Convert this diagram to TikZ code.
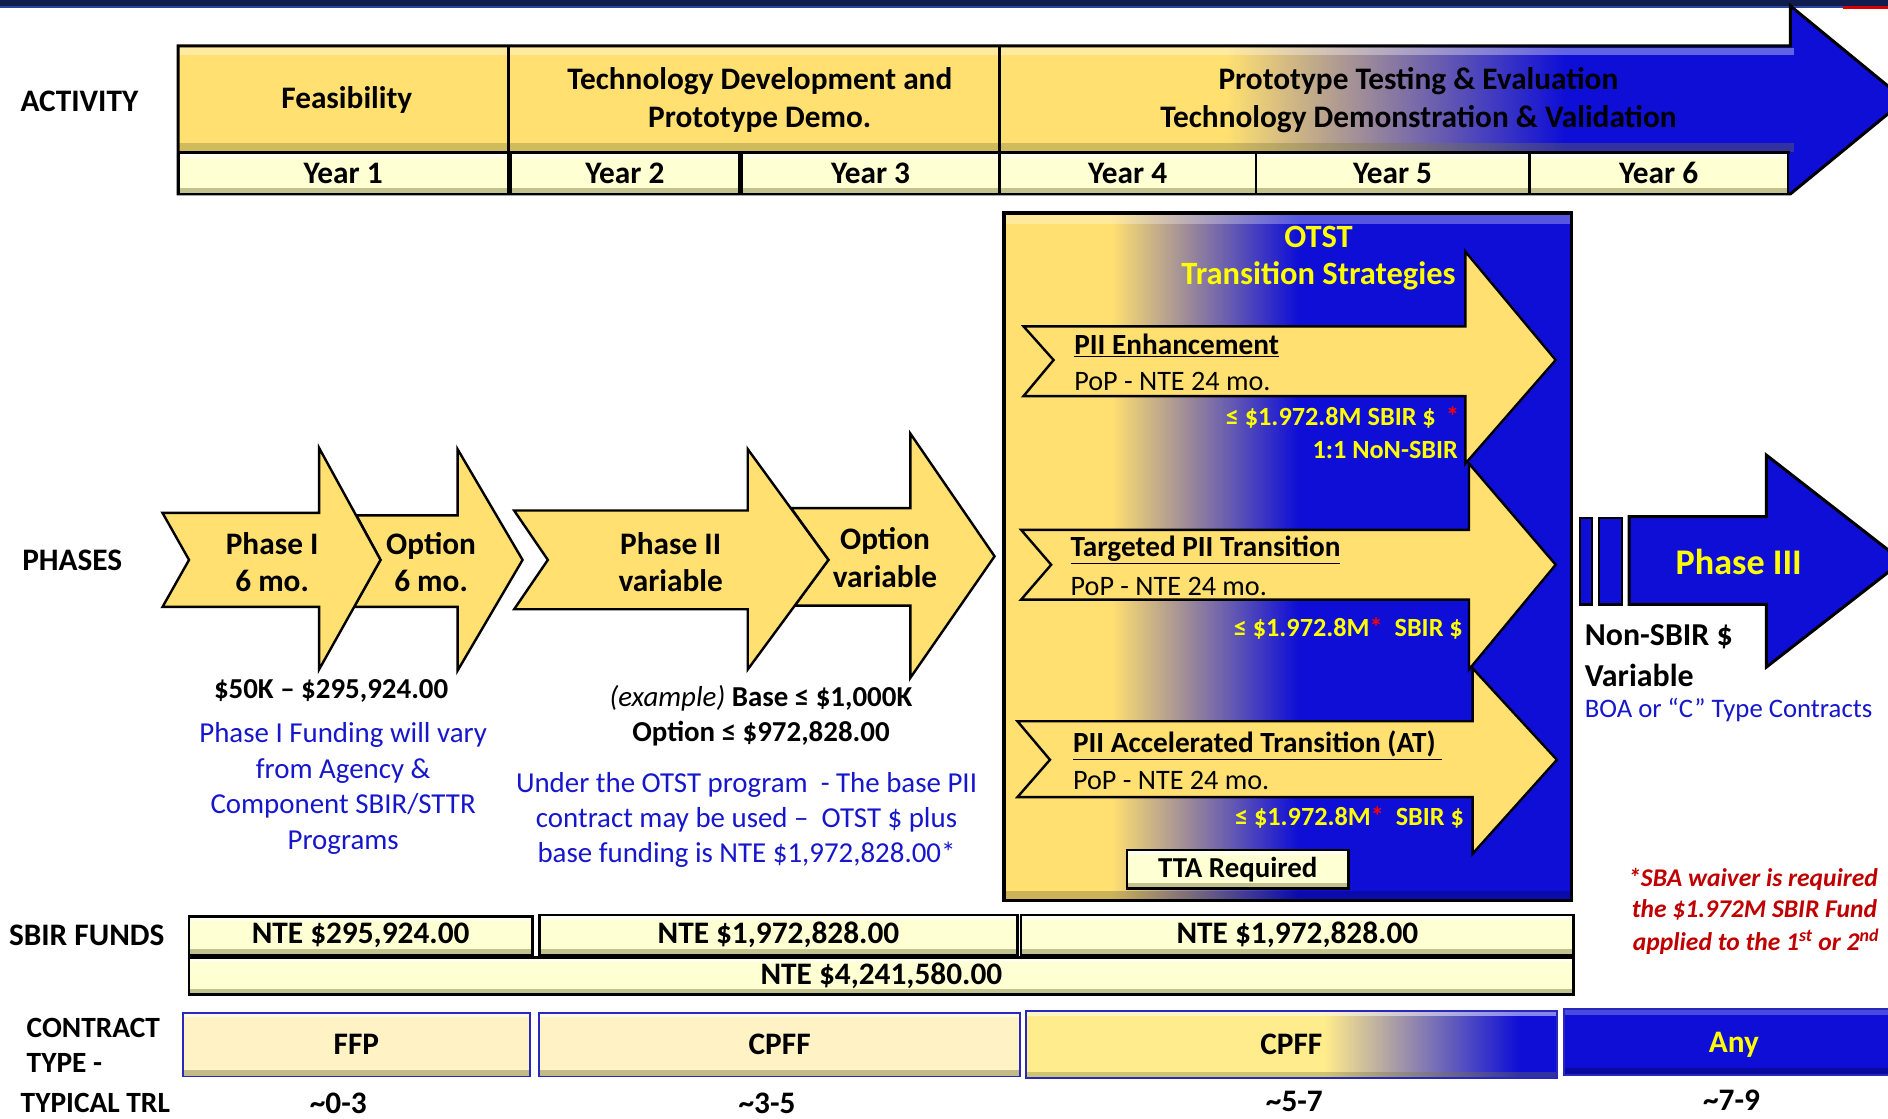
\documentclass[tikz,border=0pt]{standalone}
\usepackage{fontspec}
\setmainfont{Carlito}
\definecolor{gold}{RGB}{255,224,112}
\definecolor{deepblue}{RGB}{14,14,214}
\definecolor{cream}{RGB}{255,255,212}
\definecolor{pale}{RGB}{255,243,198}
\definecolor{cpy}{RGB}{255,236,140}
\definecolor{navy}{RGB}{17,28,78}
\definecolor{bandblue}{RGB}{40,70,160}
\definecolor{txtblue}{RGB}{22,22,205}
\definecolor{notered}{RGB}{192,0,0}
\definecolor{ytext}{RGB}{255,255,0}
\definecolor{cblue}{RGB}{40,40,190}
\definecolor{shadow}{RGB}{120,120,60}
\newcommand\myle{≤}
\begin{document}
\begin{tikzpicture}[x=1pt,y=-1pt,
  lab/.style={font=\fontsize{26}{31}\selectfont\bfseries, inner sep=0pt, align=center},
  lab2/.style={font=\fontsize{24.4}{29}\selectfont\bfseries, inner sep=0pt, anchor=west},
  blu/.style={font=\fontsize{24}{29.5}\selectfont, text=txtblue, inner sep=0pt, align=center},
  pop/.style={font=\fontsize{23.4}{28}\selectfont, inner sep=0pt, anchor=west},
  ttl/.style={font=\fontsize{24.3}{28}\selectfont\bfseries, inner sep=0pt, anchor=west},
  amt/.style={font=\fontsize{21.8}{25}\selectfont\bfseries, text=ytext, inner sep=0pt, anchor=east},
  note/.style={anchor=west, inner sep=0pt, text=notered, font=\fontsize{21.2}{26}\selectfont\bfseries\itshape},
  bevel/.style={path picture={
    \fill[white,opacity=.6] (path picture bounding box.north west) rectangle ([yshift=-4pt]path picture bounding box.north east);
    \fill[shadow,opacity=.45] ([yshift=5pt]path picture bounding box.south west) rectangle (path picture bounding box.south east);}},
  cbox/.style={draw=black, line width=2.2pt, fill=cream, bevel, inner sep=0pt, font=\fontsize{26}{31}\selectfont\bfseries},
  ctbox/.style={draw=cblue, line width=1.6pt, fill=pale, bevel, inner sep=0pt, font=\fontsize{26}{31}\selectfont\bfseries},
  parrow/.style={draw=black, line width=2pt, fill=gold, line join=miter},
]
\useasboundingbox (0,0) rectangle (1568,929);
\clip (0,0) rectangle (1568,929);
\fill[white] (0,0) rectangle (1568,929);
% top band
\fill[navy] (0,0) rectangle (1568,5);
\fill[bandblue] (0,5) rectangle (1568,7);
\fill[red!85!black] (1531,5) rectangle (1568,7.5);

% ===== ACTIVITY arrow =====
\path[draw=black, line width=2.5pt, path picture={
   \fill[gold] (140,0) rectangle (1018,170);
   \shade[left color=gold, right color=deepblue] (1018,0) rectangle (1300,170);
   \fill[deepblue] (1300,0) rectangle (1600,170);
   \fill[white,opacity=.35] (148,40) rectangle (1490,46);
   \fill[shadow,opacity=.35] (148,119) rectangle (1490,126);
 }] (148,38) -- (1487,38) -- (1487,5) -- (1582,83) -- (1487,161) -- (148,161) -- cycle;
\draw[line width=2.5pt] (422,38) -- (422,127) (830,38) -- (830,127) (148,127) -- (1487,127);

\node[lab] (act) at (66,84) {ACTIVITY};
\node[lab] (feas) at (288,83) {Feasibility};
\node[lab, font=\fontsize{26}{32}\selectfont\bfseries] (techdev) at (631,83) {Technology Development and\\Prototype Demo.};
\node[lab, font=\fontsize{26}{32}\selectfont\bfseries] (proto) at (1178,83) {Prototype Testing \& Evaluation\\Technology Demonstration \& Validation};

\node[cbox, minimum width=274, minimum height=34] (y1) at (285,144) {Year 1};
\node[cbox, minimum width=190, minimum height=34] (y2) at (519,144) {Year 2};
\node[cbox, minimum width=214, minimum height=34] (y3) at (723,144) {Year 3};
\node[cbox, minimum width=213, minimum height=34] (y4) at (936.5,144) {Year 4};
\node[cbox, minimum width=227, minimum height=34] (y5) at (1156.5,144) {Year 5};
\node[cbox, minimum width=215, minimum height=34] (y6) at (1377.5,144) {Year 6};

% ===== PHASES =====
\node[lab] (phases) at (60,465) {PHASES};
\path[parrow] (296,428) -- (380,428) -- (380,373) -- (434,465) -- (380,557) -- (380,504) -- (294,504) -- (316,465) -- cycle;
\path[parrow] (135,426) -- (265,426) -- (265,372) -- (316,465) -- (265,556) -- (265,504) -- (135,504) -- (157,465) -- cycle;
\path[parrow] (657,422) -- (756,422) -- (756,360) -- (826,462) -- (756,563) -- (756,503) -- (660,503) -- (688,465) -- cycle;
\path[parrow] (427,424) -- (621,424) -- (621,373) -- (688,465) -- (621,556) -- (621,506) -- (427,506) -- (455,465) -- cycle;

\node[lab] (p1) at (226,467) {Phase I\\6 mo.};
\node[lab] (o1) at (358,467) {Option\\6 mo.};
\node[lab] (p2) at (557,467) {Phase II\\variable};
\node[lab] (o2) at (735,463) {Option\\variable};

\node[lab, font=\fontsize{24}{29}\selectfont\bfseries] (p1amt) at (275,574) {\$50K – \$295,924.00};
\node[blu] (p1note) at (285,655) {Phase I Funding will vary\\from Agency \&\\Component SBIR/STTR\\Programs};
\node[lab, font=\fontsize{24}{29}\selectfont\bfseries] (p2base) at (632,580) {{\mdseries\itshape (example)} Base \myle\ \$1,000K};
\node[lab, font=\fontsize{24}{29}\selectfont\bfseries] (p2opt) at (632,609) {Option \myle\ \$972,828.00};
\node[blu, font=\fontsize{24}{29}\selectfont] (p2note) at (620,681) {Under the OTST program \ - The base PII\\contract may be used – \ OTST \$ plus\\base funding is NTE \$1,972,828.00*};

% ===== OTST box =====
\path[draw=black, line width=3pt, path picture={
   \fill[gold] (830,170) rectangle (923,760);
   \shade[left color=gold, right color=deepblue] (923,170) rectangle (1078,760);
   \fill[deepblue] (1078,170) rectangle (1310,760);
   \fill[white,opacity=.3] (834,178) rectangle (1305,186);
   \fill[black,opacity=.2] (834,740) rectangle (1305,748);
 }] (834,177) rectangle (1305,748);
\node[lab, text=ytext, font=\fontsize{27}{32}\selectfont\bfseries] (otst) at (1095,197) {OTST};
\node[lab, text=ytext, font=\fontsize{27}{32}\selectfont\bfseries] (trans) at (1095,229) {Transition Strategies};

\path[parrow] (850,271) -- (1217,271) -- (1217,209) -- (1292,299) -- (1217,385) -- (1217,329) -- (850,329) -- (875,299) -- cycle;
\path[parrow] (848,440) -- (1220,440) -- (1220,385) -- (1292,469) -- (1220,556) -- (1220,498) -- (848,498) -- (873,469) -- cycle;
\path[parrow] (845,599) -- (1223,599) -- (1223,555) -- (1293,631) -- (1223,709) -- (1223,662) -- (845,662) -- (872,631) -- cycle;

\node[ttl] (enh) at (892,287) {\underline{PII Enhancement}};
\node[pop] (enhpop) at (892,317) {PoP - NTE 24 mo.};
\node[amt] (enhamt) at (1212,347) {\myle\ \$1.972.8M SBIR \$ \,{\color{red}*}};
\node[amt] (enhnon) at (1211,374) {1:1 NoN-SBIR};

\node[ttl] (tgt) at (889,457) {\underline{Targeted PII Transition}};
\node[pop] (tgtpop) at (889,487) {PoP - NTE 24 mo.};
\node[amt] (tgtamt) at (1215,522) {\myle\ \$1.972.8M{\color{red}*}\ \ SBIR \$};

\node[ttl] (acc) at (891,619) {\underline{PII Accelerated Transition (AT)\ }};
\node[pop] (accpop) at (891,648) {PoP - NTE 24 mo.};
\node[amt] (accamt) at (1216,679) {\myle\ \$1.972.8M{\color{red}*}\ \ SBIR \$};

\node[cbox, minimum width=184, minimum height=32, font=\fontsize{24}{29}\selectfont\bfseries] (tta) at (1028,722) {TTA Required};

% ===== Phase III =====
\path[draw=black, line width=2pt, fill=deepblue] (1312,430) rectangle (1322,502);
\path[draw=black, line width=2pt, fill=deepblue] (1328,430) rectangle (1347,502);
\path[draw=black, line width=2.5pt, fill=deepblue] (1353,429) -- (1467,429) -- (1467,378) -- (1580,466) -- (1467,554) -- (1467,502) -- (1353,502) -- cycle;
\node[lab, text=ytext, font=\fontsize{30}{34}\selectfont\bfseries] (p3) at (1444,467) {Phase III};
\node[lab, anchor=west, font=\fontsize{26.5}{31}\selectfont\bfseries] (nonsbir) at (1316,529) {Non-SBIR \$};
\node[lab, anchor=west, font=\fontsize{26.5}{31}\selectfont\bfseries] (var) at (1316,561) {Variable};
\node[blu, anchor=west, font=\fontsize{22.2}{27}\selectfont] (boa) at (1316,590) {BOA or “C” Type Contracts};

% red note
\node[note] (n1) at (1352,730) {*SBA waiver is required};
\node[note] (n2) at (1355,756) {the \$1.972M SBIR Fund};
\node[note] (n3) at (1356,782) {applied to the 1\textsuperscript{st} or 2\textsuperscript{nd}};

% ===== SBIR FUNDS =====
\node[lab] (sbirf) at (72,777) {SBIR FUNDS};
\node[cbox, minimum width=285, minimum height=32] (f1) at (299.5,777) {NTE \$295,924.00};
\node[cbox, minimum width=397, minimum height=33] (f2) at (646.5,776.5) {NTE \$1,972,828.00};
\node[cbox, minimum width=459, minimum height=33] (f3) at (1077.5,776.5) {NTE \$1,972,828.00};
\node[cbox, minimum width=1150, minimum height=31] (ftot) at (732,810.5) {NTE \$4,241,580.00};

% ===== CONTRACT TYPE =====
\node[lab2] (ct1) at (22,854) {CONTRACT};
\node[lab2] (ct2) at (22,883) {TYPE -};
\node[ctbox, minimum width=288, minimum height=53] (ffp) at (296,867.5) {FFP};
\node[ctbox, minimum width=399, minimum height=53] (cpff1) at (647.5,867.5) {CPFF};
\node[draw=cblue, line width=1.6pt, inner sep=0pt, minimum width=441, minimum height=55,
  font=\fontsize{26}{31}\selectfont\bfseries,
  path picture={
   \fill[cpy] (path picture bounding box.south west) rectangle ([xshift=248pt]path picture bounding box.north west);
   \shade[left color=cpy, middle color=blue!10!white, right color=deepblue] ([xshift=248pt]path picture bounding box.south west) rectangle ([xshift=410pt]path picture bounding box.north west);
   \fill[deepblue] ([xshift=410pt]path picture bounding box.south west) rectangle (path picture bounding box.north east);
   \fill[white,opacity=.5] (path picture bounding box.north west) rectangle ([yshift=-4pt]path picture bounding box.north east);
   \fill[shadow,opacity=.35] ([yshift=5pt]path picture bounding box.south west) rectangle (path picture bounding box.south east);
  }] (cpff2) at (1072.5,867.5) {CPFF};
\node[draw=cblue, line width=1.6pt, fill=deepblue, inner sep=0pt, minimum width=276, minimum height=55,
  text=ytext, font=\fontsize{26}{31}\selectfont\bfseries,
  path picture={
   \fill[white,opacity=.25] (path picture bounding box.north west) rectangle ([yshift=-5pt]path picture bounding box.north east);
   \fill[black,opacity=.25] ([yshift=6pt]path picture bounding box.south west) rectangle (path picture bounding box.south east);
  }] (any) at (1437,865.5) {};
\node[lab, text=ytext] (anytxt) at (1440,868) {Any};

% ===== TRL =====
\node[lab2] (trl) at (17,916) {TYPICAL TRL};
\node[lab] (t1) at (281,916) {\textasciitilde0-3};
\node[lab] (t2) at (637,916) {\textasciitilde3-5};
\node[lab] (t3) at (1075,915) {\textasciitilde5-7};
\node[lab] (t4) at (1438,914) {\textasciitilde7-9};
\end{tikzpicture}
\end{document}
